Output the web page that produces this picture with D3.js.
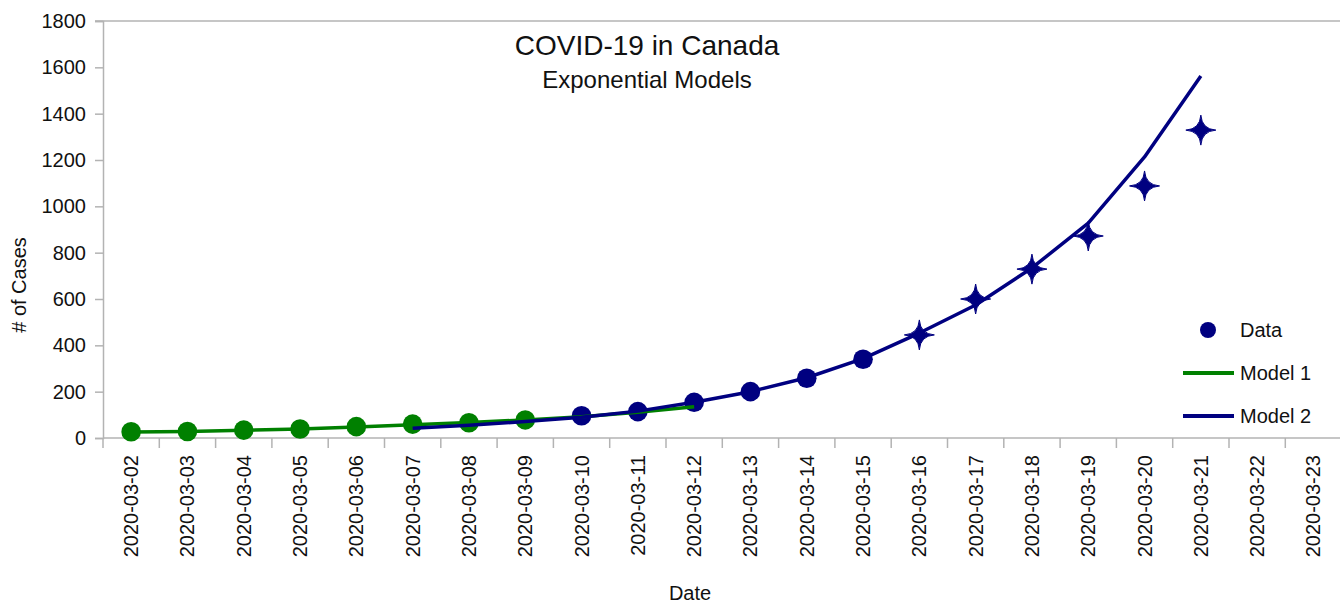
<!DOCTYPE html>
<html>
<head>
<meta charset="utf-8">
<script src="https://cdn.jsdelivr.net/npm/d3@7"></script>
<style>
  html, body { margin: 0; padding: 0; background: #fff; }
  svg { display: block; font-family: "Liberation Sans", Arial, sans-serif; }
</style>
</head>
<body>
<svg id="chart" width="1340" height="603"></svg>
<script>
// ---------- data ----------
const dates = ["2020-03-02","2020-03-03","2020-03-04","2020-03-05","2020-03-06","2020-03-07",
  "2020-03-08","2020-03-09","2020-03-10","2020-03-11","2020-03-12","2020-03-13","2020-03-14",
  "2020-03-15","2020-03-16","2020-03-17","2020-03-18","2020-03-19","2020-03-20","2020-03-21",
  "2020-03-22","2020-03-23"];
const yTicks = [0,200,400,600,800,1000,1200,1400,1600,1800];

// observed cases, fitted with Model 1 (green dots)
const dataFit1Dates = ["2020-03-02","2020-03-03","2020-03-04","2020-03-05","2020-03-06","2020-03-07","2020-03-08","2020-03-09"];
const dataFit1Cases = [27, 28, 34, 39, 49, 60, 66, 78];
// observed cases, fitted with Model 2 (navy dots)
const dataFit2Dates = ["2020-03-10","2020-03-11","2020-03-12","2020-03-13","2020-03-14","2020-03-15"];
const dataFit2Cases = [96, 114, 154, 200, 258, 340];
// later observed cases (stars)
const dataTestDates = ["2020-03-16","2020-03-17","2020-03-18","2020-03-19","2020-03-20","2020-03-21"];
const dataTestCases = [445, 600, 729, 872, 1088, 1329];

const model1Dates = ["2020-03-02","2020-03-03","2020-03-04","2020-03-05","2020-03-06","2020-03-07",
  "2020-03-08","2020-03-09","2020-03-10","2020-03-11","2020-03-12"];
const model1Values = [26, 28, 33, 39, 47, 57, 67, 78, 92, 111, 135];
const model2Dates = ["2020-03-07","2020-03-08","2020-03-09","2020-03-10","2020-03-11","2020-03-12",
  "2020-03-13","2020-03-14","2020-03-15","2020-03-16","2020-03-17","2020-03-18","2020-03-19",
  "2020-03-20","2020-03-21"];
const model2Values = [42, 55, 71, 90, 116, 154, 200, 260, 343, 453, 574, 734, 928, 1213, 1563];

const legendLabels = ["Data", "Model 1", "Model 2"];

// ---------- drawing ----------
const GREEN = "#008000", NAVY = "#000080", AXIS = "#b3b3b3", TEXT = "#111";
const svg = d3.select("#chart");
const x = d3.scaleBand().domain(dates).range([103, 1341.6]).padding(0);
const cx = d => x(d) + x.bandwidth() / 2;
const y = d3.scaleLinear().domain([0, 1800]).range([438, 21]);

// top border line
svg.append("line").attr("x1", 95).attr("x2", 1340).attr("y1", y(1800)).attr("y2", y(1800))
  .attr("stroke", AXIS).attr("stroke-width", 1.5);

// y axis
const yAxis = svg.append("g").attr("transform", "translate(103,0)")
  .call(d3.axisLeft(y).tickValues(yTicks).tickSize(8).tickPadding(9).tickFormat(d3.format("d")));
yAxis.select(".domain").attr("stroke", AXIS).attr("stroke-width", 1.5);
yAxis.selectAll(".tick line").attr("stroke", AXIS).attr("stroke-width", 1.5);
yAxis.selectAll(".tick text").attr("font-size", 20).attr("fill", TEXT)
  .attr("font-family", "'Liberation Sans', Arial, sans-serif");

// x axis
const xg = svg.append("g");
xg.append("line").attr("x1", 103).attr("x2", 1340).attr("y1", y(0)).attr("y2", y(0))
  .attr("stroke", AXIS).attr("stroke-width", 1.5);
xg.selectAll("line.tk").data(dates).join("line").attr("class", "tk")
  .attr("x1", d => x(d)).attr("x2", d => x(d)).attr("y1", y(0)).attr("y2", y(0) + 10)
  .attr("stroke", AXIS).attr("stroke-width", 1.5);
xg.selectAll("text").data(dates).join("text")
  .attr("transform", d => `translate(${cx(d) + 7},455) rotate(-90)`)
  .attr("text-anchor", "end").attr("font-size", 20).attr("fill", TEXT)
  .text(d => d);

// axis titles
svg.append("text").attr("x", 690).attr("y", 600).attr("text-anchor", "middle")
  .attr("font-size", 20).attr("fill", TEXT).text("Date");
svg.append("text").attr("transform", "translate(26,285) rotate(-90)").attr("text-anchor", "middle")
  .attr("font-size", 20).attr("fill", TEXT).text("# of Cases");

// titles
svg.append("text").attr("x", 647).attr("y", 55).attr("text-anchor", "middle")
  .attr("font-size", 28).attr("fill", TEXT).text("COVID-19 in Canada");
svg.append("text").attr("x", 647).attr("y", 88).attr("text-anchor", "middle")
  .attr("font-size", 24).attr("fill", TEXT).text("Exponential Models");

// data markers
const starPath = "M0,-15 Q1,-1 15,0 Q1,1 0,15 Q-1,1 -15,0 Q-1,-1 0,-15Z";
svg.append("g").selectAll("circle").data(dataFit1Dates).join("circle")
  .attr("cx", d => cx(d)).attr("cy", (d, i) => y(dataFit1Cases[i])).attr("r", 9.8).attr("fill", GREEN);
svg.append("g").selectAll("circle").data(dataFit2Dates).join("circle")
  .attr("cx", d => cx(d)).attr("cy", (d, i) => y(dataFit2Cases[i])).attr("r", 9.8).attr("fill", NAVY);
svg.append("g").selectAll("path").data(dataTestDates).join("path")
  .attr("transform", (d, i) => `translate(${cx(d)},${y(dataTestCases[i])})`)
  .attr("d", starPath).attr("fill", NAVY).attr("stroke", NAVY).attr("stroke-width", 1);

// model lines
const line = d3.line().x(d => cx(d[0])).y(d => y(d[1]));
svg.append("path").datum(d3.zip(model1Dates, model1Values)).attr("d", line)
  .attr("fill", "none").attr("stroke", GREEN).attr("stroke-width", 3.5).attr("stroke-linejoin", "round");
svg.append("path").datum(d3.zip(model2Dates, model2Values)).attr("d", line)
  .attr("fill", "none").attr("stroke", NAVY).attr("stroke-width", 3.5).attr("stroke-linejoin", "round");

// legend
const lg = svg.append("g");
lg.append("circle").attr("cx", 1208).attr("cy", 330).attr("r", 8).attr("fill", NAVY);
lg.append("line").attr("x1", 1183).attr("x2", 1234).attr("y1", 373).attr("y2", 373)
  .attr("stroke", GREEN).attr("stroke-width", 4);
lg.append("line").attr("x1", 1183).attr("x2", 1234).attr("y1", 416).attr("y2", 416)
  .attr("stroke", NAVY).attr("stroke-width", 4);
lg.selectAll("text").data(legendLabels).join("text")
  .attr("x", 1240).attr("y", (d, i) => 337 + i * 43)
  .attr("font-size", 20).attr("fill", TEXT).text(d => d);
</script>
</body>
</html>
